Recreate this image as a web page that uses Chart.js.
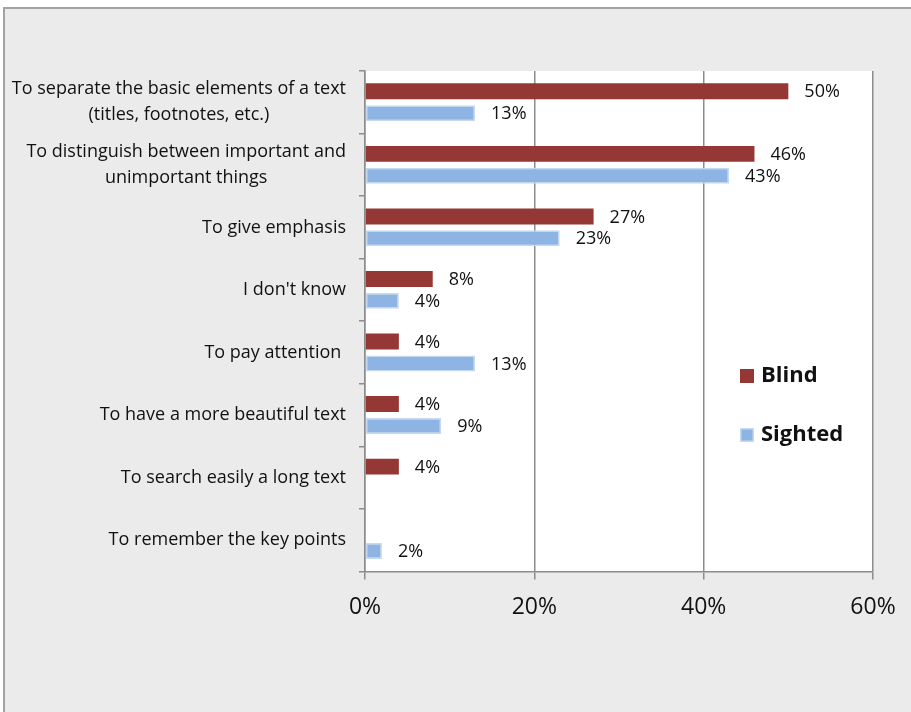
<!DOCTYPE html>
<html>
<head>
<meta charset="utf-8">
<title>Reasons for using text formatting</title>
<script src="https://cdn.jsdelivr.net/npm/chart.js@4/dist/chart.umd.min.js"></script>
<style>
  html, body { margin: 0; padding: 0; background: #fff; }
  #wrap { position: relative; width: 911px; height: 712px; overflow: hidden; }
  #panel {
    position: absolute; left: 3px; top: 7px; width: 906px; height: 703px;
    background: #ebebeb;
    border-top: 2px solid #a3a3a3;
    border-left: 2px solid #a3a3a3;
  }
  #box { position: absolute; left: 0; top: 0; width: 911px; height: 712px; }
</style>
</head>
<body>
<div id="wrap">
  <div id="panel"></div>
  <div id="box"><canvas id="reasonsChart"></canvas></div>
</div>
<script>
  // answers, one entry per line of the label
  var categories = [
    ["To separate the basic elements of a text", "(titles, footnotes, etc.)"],
    ["To distinguish between important and", "unimportant things"],
    ["To give emphasis"],
    ["I don't know"],
    ["To pay attention "],
    ["To have a more beautiful text"],
    ["To search easily a long text"],
    ["To remember the key points"]
  ];
  var blindValues = [50, 46, 27, 8, 4, 4, 4, null];
  var sightedValues = [13, 43, 23, 4, 13, 9, null, 2];
  var xTicks = [0, 20, 40, 60];

  var FONT = "'Open Sans', 'DejaVu Sans', sans-serif";
  var RED = "#953735";
  var BLUE = "#8eb4e3";
  var BLUE_EDGE = "#c6d9f1";
  var GRID = "#8c8c8c";

  // white plot background
  var plotBackground = {
    id: "plotBackground",
    beforeDraw: function (chart) {
      var a = chart.chartArea, ctx = chart.ctx;
      ctx.save();
      ctx.fillStyle = "#fff";
      ctx.fillRect(a.left, a.top, a.right - a.left, a.bottom - a.top);
      ctx.restore();
    }
  };

  // category labels: block right-aligned, lines centred inside the block
  var categoryLabels = {
    id: "categoryLabels",
    afterDraw: function (chart) {
      var ctx = chart.ctx, y = chart.scales.y;
      var right = chart.chartArea.left - 19;
      var lineH = 26;
      ctx.save();
      ctx.font = "18px " + FONT;
      ctx.fillStyle = "#111";
      ctx.textAlign = "center";
      ctx.textBaseline = "middle";
      chart.data.labels.forEach(function (lines, i) {
        var w = 0;
        lines.forEach(function (l) { w = Math.max(w, ctx.measureText(l).width); });
        var cy = y.getPixelForValue(i);
        var y0 = cy - (lines.length - 1) * lineH / 2;
        lines.forEach(function (l, k) {
          ctx.fillText(l, right - w / 2, y0 + k * lineH);
        });
      });
      ctx.restore();
    }
  };

  // value labels to the right of each bar
  var valueLabels = {
    id: "valueLabels",
    afterDatasetsDraw: function (chart) {
      var ctx = chart.ctx;
      ctx.save();
      ctx.font = "18px " + FONT;
      ctx.fillStyle = "#111";
      ctx.textAlign = "left";
      ctx.textBaseline = "middle";
      chart.data.datasets.forEach(function (ds, di) {
        chart.getDatasetMeta(di).data.forEach(function (bar, i) {
          var v = ds.data[i];
          if (v === null || v === undefined) return;
          ctx.fillText(v + "%", bar.x + 16, bar.y + 1);
        });
      });
      ctx.restore();
    }
  };

  // legend sitting inside the plot
  var insideLegend = {
    id: "insideLegend",
    afterDraw: function (chart) {
      var ctx = chart.ctx;
      var x = 740, rows = [376, 435];
      ctx.save();
      ctx.font = "bold 22px " + FONT;
      ctx.textBaseline = "middle";
      ctx.textAlign = "left";
      chart.data.datasets.forEach(function (ds, i) {
        var cy = rows[i];
        ctx.fillStyle = ds.backgroundColor;
        ctx.fillRect(x, cy - 7, 14, 14);
        if (ds.borderWidth) {
          ctx.strokeStyle = ds.borderColor;
          ctx.lineWidth = 1.5;
          ctx.strokeRect(x + 0.75, cy - 6.25, 12.5, 12.5);
        }
        ctx.fillStyle = "#111";
        ctx.fillText(ds.label, x + 21, cy);
      });
      ctx.restore();
    }
  };

  new Chart(document.getElementById("reasonsChart"), {
    type: "bar",
    data: {
      labels: categories,
      datasets: [
        {
          label: "Blind",
          data: blindValues,
          backgroundColor: RED,
          borderWidth: 0,
          categoryPercentage: 0.7,
          barPercentage: 0.73
        },
        {
          label: "Sighted",
          data: sightedValues,
          backgroundColor: BLUE,
          borderColor: BLUE_EDGE,
          borderWidth: 1.5,
          borderSkipped: false,
          categoryPercentage: 0.7,
          barPercentage: 0.73
        }
      ]
    },
    options: {
      indexAxis: "y",
      responsive: true,
      maintainAspectRatio: false,
      animation: false,
      layout: { padding: { left: 359, right: 38, top: 71, bottom: 77 } },
      plugins: {
        legend: { display: false },
        tooltip: { enabled: false }
      },
      scales: {
        x: {
          min: 0,
          max: 60,
          afterBuildTicks: function (axis) {
            axis.ticks = xTicks.map(function (v) { return { value: v }; });
          },
          ticks: {
            padding: 14,
            color: "#111",
            font: { family: FONT, size: 23 },
            callback: function (v) { return v + "%"; }
          },
          grid: { color: GRID, lineWidth: 1.5, tickLength: 8 },
          border: { color: GRID, width: 1.5 }
        },
        y: {
          ticks: { display: false },
          grid: { drawOnChartArea: false, color: GRID, lineWidth: 1.5, tickLength: 6 },
          border: { color: GRID, width: 1.5 }
        }
      }
    },
    plugins: [plotBackground, categoryLabels, valueLabels, insideLegend]
  });
</script>
</body>
</html>
